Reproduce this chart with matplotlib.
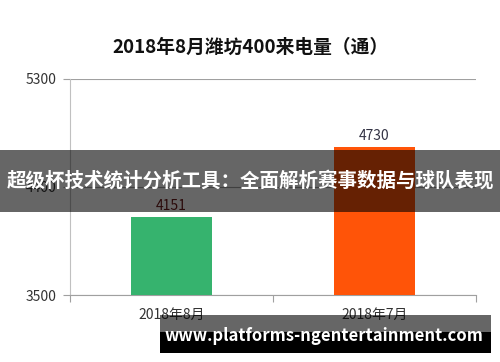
import matplotlib
matplotlib.use("Agg")
import matplotlib.pyplot as plt
from matplotlib.patches import Rectangle

plt.rcParams['font.family'] = ['Noto Sans CJK SC', 'DejaVu Sans']

# 数据
months = ['2018年8月', '2018年7月']
calls = [4151, 4730]
bar_colors = ['#36B36E', '#FF5408']
y_ticks = [3500, 4400, 5300]

fig = plt.figure(figsize=(5, 3.62), dpi=100)
ax = fig.add_axes([0.14, 0.185, 0.812, 0.598])

x = range(len(months))
bars = ax.bar(x, calls, width=0.4, color=bar_colors, zorder=3)
ax.set_xlim(-0.5, 1.5)
ax.set_ylim(3500, 5300)
ax.set_yticks(y_ticks)
ax.set_yticklabels([str(v) for v in y_ticks], fontsize=10, color='#333333')
ax.set_xticks([-0.5, 0.5, 1.5], minor=False)
ax.set_xticklabels([])
ax.set_xticks(list(x), minor=True)
ax.set_xticklabels(months, minor=True, fontsize=10, color='#333333')
ax.tick_params(axis='x', which='major', length=5, color='#a0a0a0')
ax.tick_params(axis='x', which='minor', length=0, pad=9)
ax.tick_params(axis='y', length=5, color='#a0a0a0', pad=5)
ax.grid(axis='y', color='#a0a0a0', linewidth=0.8, zorder=0)
for s in ['top', 'right']:
    ax.spines[s].set_visible(False)
ax.spines['left'].set_color('#c0c0c0')
ax.spines['bottom'].set_color('#a0a0a0')

label_colors = ['#6b1a1a', '#333344']
for b, v, c in zip(bars, calls, label_colors):
    ax.text(b.get_x() + b.get_width() / 2, v + 30, str(v), ha='center', va='bottom',
            fontsize=10, color=c, zorder=4)

fig.text(0.5, 0.87, '2018年8月潍坊400来电量（通）', ha='center', va='center',
         fontsize=13.5, fontweight='bold', color='#111111')

# 横幅
fig.patches.append(Rectangle((0, 1 - 212 / 362), 1, 62 / 362, transform=fig.transFigure,
                             facecolor='black', alpha=0.6, zorder=10))
fig.text(0.5, 1 - 181 / 362, '超级杯技术统计分析工具：全面解析赛事数据与球队表现',
         ha='center', va='center', fontsize=14, fontweight='bold', color='white', zorder=11)

# 水印
fig.patches.append(Rectangle((160 / 500, 1 - 332 / 362), 331 / 500, 17 / 362,
                             transform=fig.transFigure, facecolor='black', alpha=0.6, zorder=10))
fig.patches.append(Rectangle((160 / 500, 1 - 353 / 362), 331 / 500, 21 / 362,
                             transform=fig.transFigure, facecolor='black', zorder=10))
fig.text(324 / 500, 1 - 336 / 362, 'www.platforms-ngentertainment.com', ha='center', va='center',
         fontsize=12, fontweight='bold', color='white', zorder=11)

fig.savefig('out.png', dpi=100)
